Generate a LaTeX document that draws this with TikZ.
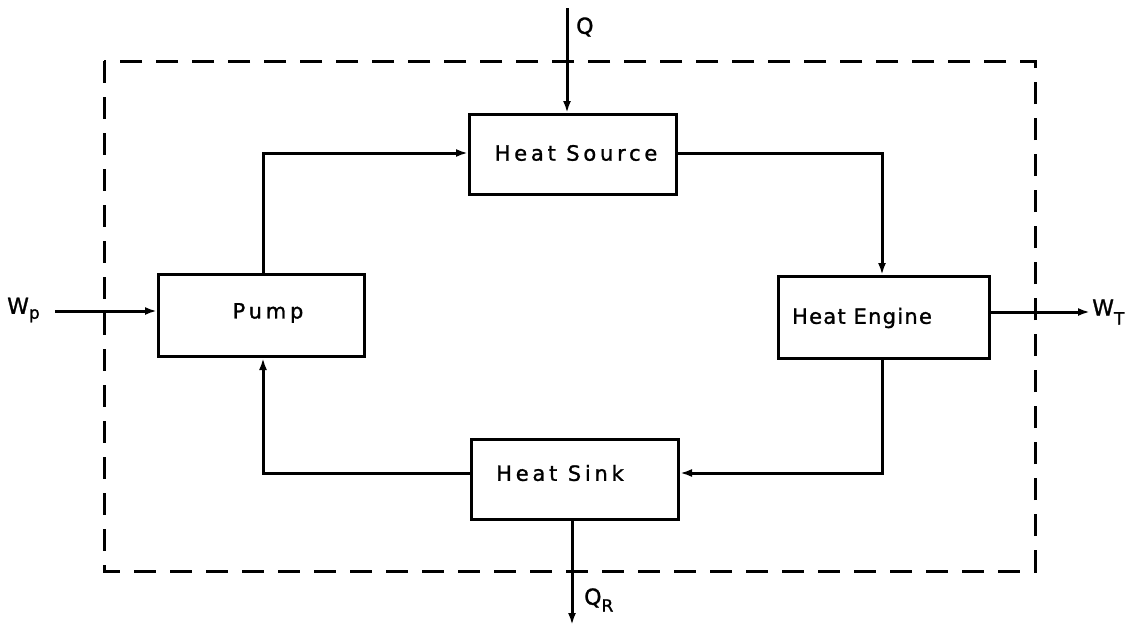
\documentclass[tikz,border=0pt]{standalone}
\usepackage{fontspec}
\setmainfont{DejaVu Sans}
\newfontfamily\lblfont[LetterSpace=18,FakeBold=1.2]{DejaVu Sans}
\newfontfamily\lblfontB[LetterSpace=6,FakeBold=1.2]{DejaVu Sans}
\newfontfamily\symfont[FakeBold=1.2]{DejaVu Sans}
\usetikzlibrary{arrows.meta}
\begin{document}
\begin{tikzpicture}[x=1pt,y=-1pt,
  box/.style={draw=black,line width=3pt,minimum width=#1,inner sep=0pt,anchor=north west},
  flow/.style={draw=black,line width=3pt,-{Latex[length=12pt,width=8pt]}},
  txt/.style={font=\fontsize{21}{21}\selectfont\lblfont,inner sep=0pt},
  txtB/.style={font=\fontsize{21}{21}\selectfont\lblfontB,inner sep=0pt},
  sym/.style={font=\fontsize{22}{22}\selectfont\symfont,inner sep=0pt},
  border/.style={draw=black,line width=3pt,dash pattern=on 22pt off 14pt}]
\useasboundingbox (0,0) rectangle (1129,627);
\fill[white] (0,0) rectangle (1129,627);
% system boundary
\draw[border] (104,61) rectangle (1035,571);
% boxes
\node[box=207pt,minimum height=80pt] (src) at (468,113) {};
\node[box=206pt,minimum height=82pt] (pump) at (157,273) {};
\node[box=211pt,minimum height=82pt] (eng) at (777,275) {};
\node[box=207pt,minimum height=80pt] (sink) at (470,438) {};
% texts
\node[txt] (tsrc) at (576,153) {Heat Source};
\node[txt] (tpump) at (268,313) {Pump};
\node[txtB] (teng) at (862,318) {Heat Engine};
\node[txt] (tsink) at (560,473) {Heat Sink};
% external coordinates
\coordinate (qin) at (567,8);
\coordinate (wpin) at (55,311);
\coordinate (wtout) at (1090,312);
\coordinate (qrout) at (572,625);
% loop
\draw[flow] (pump.north -| 263,0) |- (src.west |- 0,153);
\draw[flow] (src.east |- 0,153) -| (eng.north -| 882,0);
\draw[flow] (eng.south -| 882,0) |- (sink.east |- 0,473);
\draw[flow] (sink.west |- 0,473) -| (pump.south -| 263,0);
% inputs / outputs
\draw[flow] (qin) -- (qin |- src.north);
\draw[flow] (wpin) -- (wpin -| pump.west);
\draw[flow] (eng.east |- wtout) -- (wtout);
\draw[flow] (sink.south -| qrout) -- (qrout);
% labels
\node[sym,anchor=west] (lq) at (576,27) {Q};
\node[sym,anchor=west] (lwp) at (7,310) {W\raisebox{-5pt}{\fontsize{17}{17}\selectfont p}};
\node[sym,anchor=west] (lwt) at (1092,312) {W\raisebox{-9pt}{\fontsize{17}{17}\selectfont T}};
\node[sym,anchor=west] (lqr) at (584,600) {Q\raisebox{-7pt}{\fontsize{17}{17}\selectfont R}};
\end{tikzpicture}
\end{document}
